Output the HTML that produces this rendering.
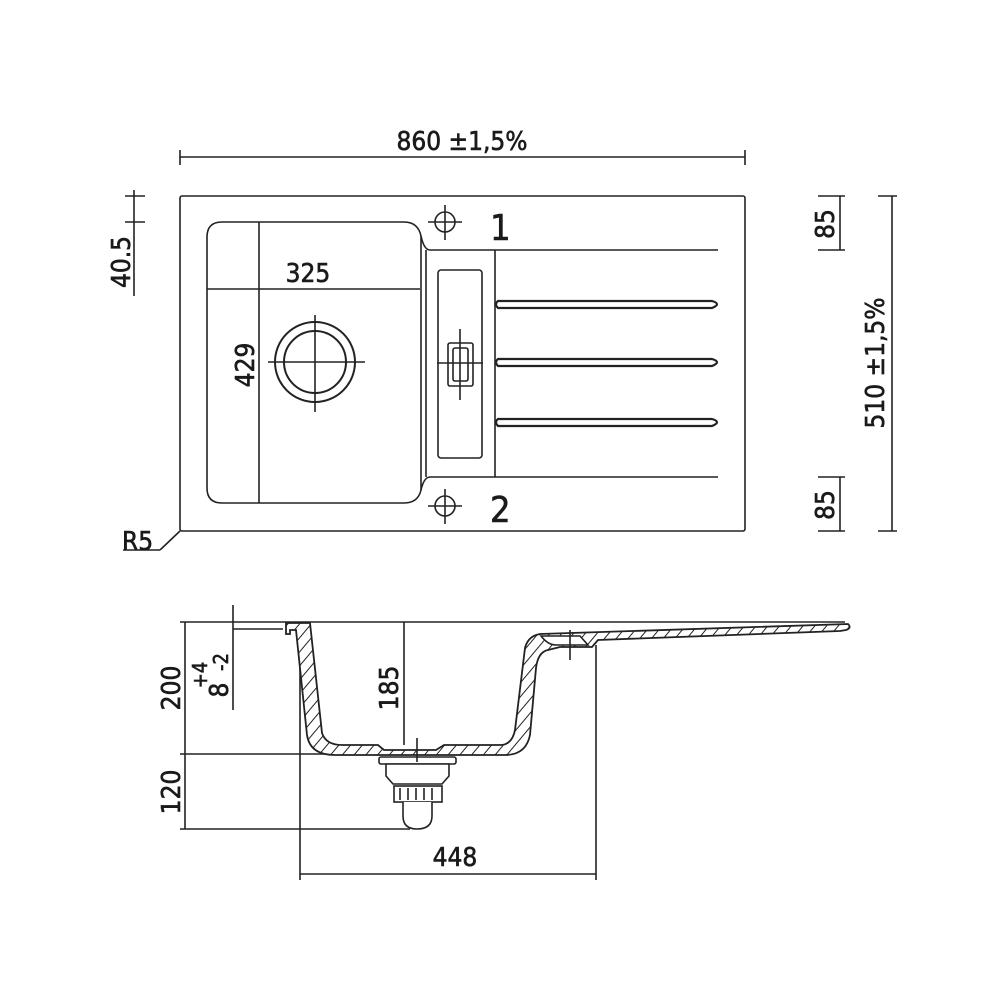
<!DOCTYPE html>
<html><head><meta charset="utf-8"><style>
html,body{margin:0;padding:0;background:#fff}
svg{display:block}
text{font-family:"DejaVu Sans Condensed","Liberation Sans",sans-serif;fill:#1a1a1a;stroke:#1a1a1a;stroke-width:0.6}
</style></head><body>
<svg width="1000" height="1000" viewBox="0 0 1000 1000" xmlns="http://www.w3.org/2000/svg">
<defs>
<pattern id="h" width="9" height="9" patternUnits="userSpaceOnUse" patternTransform="rotate(40)">
<rect width="9" height="9" fill="#fff"/><line x1="0" y1="0" x2="0" y2="9" stroke="#222" stroke-width="2"/>
</pattern>
</defs>
<g stroke="#222" stroke-width="1.6" fill="none">
<line x1="180" y1="157" x2="745" y2="157"/>
<line x1="180" y1="150" x2="180" y2="165"/><line x1="745" y1="150" x2="745" y2="165"/>
<rect x="180" y="196" width="565" height="335" rx="2"/>
<line x1="160" y1="550" x2="180" y2="531"/><line x1="123" y1="550" x2="160" y2="550"/>
<path d="M222,222 H404 Q418,222 421,236 Q424,250 430,250 H718"/>
<path d="M222,222 Q207,222 207,237 V488 Q207,503 222,503 H404 Q418,503 421,490 Q424,477 430,477 H718"/>
<line x1="421" y1="236" x2="421" y2="490"/>
<line x1="426" y1="250" x2="426" y2="477"/>
<line x1="495" y1="250" x2="495" y2="477"/>
<rect x="438" y="270" width="44" height="188" rx="3"/>
<rect x="448" y="343" width="25" height="43" rx="2"/>
<rect x="453" y="348" width="15" height="33" rx="2"/>
<line x1="460" y1="329" x2="460" y2="400"/><line x1="437" y1="363" x2="483" y2="363"/>
<path d="M498,301 H712 Q722,304 712,308 H498 Q494,304 498,301Z" stroke-width="2.2"/>
<path d="M498,359 H712 Q722,362 712,366 H498 Q494,362 498,359Z" stroke-width="2.2"/>
<path d="M498,419 H712 Q722,422 712,426 H498 Q494,422 498,419Z" stroke-width="2.2"/>
<circle cx="445" cy="222" r="10"/><line x1="428" y1="222" x2="462" y2="222"/><line x1="445" y1="205" x2="445" y2="240"/>
<circle cx="445" cy="506" r="10"/><line x1="428" y1="506" x2="462" y2="506"/><line x1="445" y1="489" x2="445" y2="524"/>
<circle cx="315" cy="362" r="40" stroke-width="2"/><circle cx="315" cy="362" r="31" stroke-width="2"/>
<line x1="268" y1="362" x2="365" y2="362"/><line x1="315" y1="315" x2="315" y2="412"/>
<line x1="207" y1="289" x2="420" y2="289"/>
<line x1="259" y1="222" x2="259" y2="503"/>
<line x1="125" y1="196" x2="145" y2="196"/><line x1="125" y1="222" x2="145" y2="222"/>
<line x1="134" y1="190" x2="134" y2="296"/>
<line x1="818" y1="196" x2="845" y2="196"/><line x1="818" y1="250" x2="845" y2="250"/><line x1="840" y1="196" x2="840" y2="250"/>
<line x1="818" y1="477" x2="845" y2="477"/><line x1="818" y1="531" x2="845" y2="531"/><line x1="840" y1="477" x2="840" y2="531"/>
<line x1="878" y1="196" x2="897" y2="196"/><line x1="878" y1="531" x2="897" y2="531"/><line x1="892" y1="196" x2="892" y2="531"/>

<line x1="180" y1="622" x2="845" y2="622"/>
<line x1="233" y1="605" x2="233" y2="710"/><line x1="233" y1="629" x2="283" y2="629"/>
<line x1="185" y1="622" x2="185" y2="829"/>
<line x1="180" y1="754" x2="380" y2="754"/>
<line x1="180" y1="829" x2="410" y2="829"/>
<line x1="404" y1="622" x2="404" y2="745"/>
<line x1="300" y1="640" x2="300" y2="880"/><line x1="596" y1="645" x2="596" y2="880"/>
<line x1="300" y1="874" x2="596" y2="874"/>
<path d="M286,623 H310 L322,733 Q326,745 342,745 H378 L384,750 H436 L444,745 H500 Q512,745 515,730 L525,648 Q528,636 540,634 L848,624 Q852,628 846,630 L840,631 L598,640 L592,647 H560 L548,650 Q538,652 536,668 L530,735 Q526,755 505,755 H335 Q310,755 307,735 L296,630 H290 V634 H286Z" fill="url(#h)" stroke-width="1.8"/>
<path d="M541,636 H580 L588,645 H556 Q548,645 541,636Z" fill="#fff"/>
<line x1="570" y1="630" x2="570" y2="660"/>
<rect x="379" y="757" width="77" height="7" rx="2" fill="#fff"/>
<path d="M386,764 H449 V776 L442,784 H393 L386,776Z" fill="#fff"/>
<rect x="394" y="786" width="48" height="16" fill="#fff"/>
<line x1="400" y1="788" x2="400" y2="800"/><line x1="408" y1="788" x2="408" y2="800"/><line x1="416" y1="788" x2="416" y2="800"/><line x1="424" y1="788" x2="424" y2="800"/><line x1="432" y1="788" x2="432" y2="800"/>
<path d="M403,802 V816 Q403,829 417,829 Q432,829 432,816 V802" fill="#fff"/>
<line x1="417" y1="738" x2="417" y2="762"/>
</g>
<g font-size="26">
<text x="462" y="150" text-anchor="middle">860 ±1,5%</text>
<text x="308" y="282" text-anchor="middle">325</text>
<text x="122" y="550">R5</text>
<text x="455" y="866" text-anchor="middle">448</text>
<text transform="translate(254,365) rotate(-90)" text-anchor="middle">429</text>
<text transform="translate(130,262) rotate(-90)" text-anchor="middle">40.5</text>
<text transform="translate(834,224) rotate(-90)" text-anchor="middle">85</text>
<text transform="translate(834,505) rotate(-90)" text-anchor="middle">85</text>
<text transform="translate(884,363) rotate(-90)" text-anchor="middle">510 ±1,5%</text>
<text transform="translate(180,688) rotate(-90)" text-anchor="middle">200</text>
<text transform="translate(180,792) rotate(-90)" text-anchor="middle">120</text>
<text transform="translate(398,688) rotate(-90)" text-anchor="middle">185</text>
<text transform="translate(228,690) rotate(-90)" text-anchor="middle">8</text>
<text transform="translate(207,675) rotate(-90)" text-anchor="middle" font-size="20">+4</text>
<text transform="translate(228,662) rotate(-90)" text-anchor="middle" font-size="20">-2</text>
</g>
<text x="490" y="240" font-size="36">1</text>
<text x="490" y="522" font-size="36">2</text>
</svg>
</body></html>
